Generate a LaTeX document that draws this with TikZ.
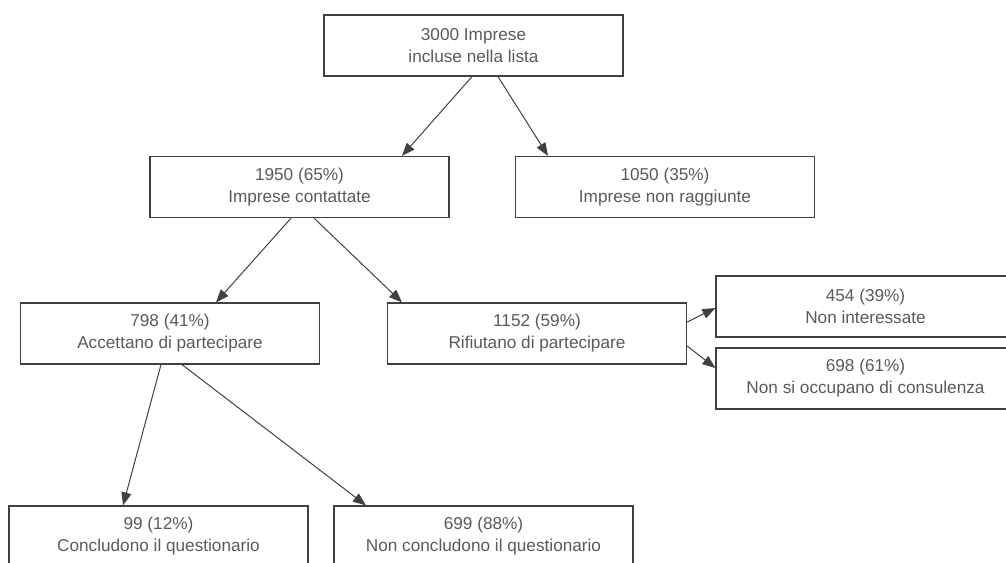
\documentclass[tikz,border=0pt]{standalone}
\usepackage{fontspec}
\setmainfont{Liberation Sans}
\usetikzlibrary{arrows.meta}
\definecolor{FlowLine}{HTML}{404040}
\definecolor{FlowText}{HTML}{5A5A5A}

\tikzset{FlowBox/.style={draw=FlowLine,line width=.6pt,rectangle,
           minimum width=149.5pt,minimum height=30.5pt,inner sep=0pt,
           align=center,text=FlowText,font=\fontsize{8.6}{11}\selectfont},
         FlowArrow/.style={draw=FlowLine,line width=.5pt,
           -{Triangle[length=6.5pt,width=5pt]}}}

\begin{document}
\begin{tikzpicture}[x=.5pt,y=-.5pt]
  % page frame in pixel units of the reference
  \clip (0,0) rectangle (1006,562);
  \node[FlowBox] (lista) at (473.5,45.5) {3000 Imprese\\incluse nella lista};
  \node[FlowBox] (contatt) at (299.5,187) {1950 (65\%)\\Imprese contattate};
  \node[FlowBox] (nonragg) at (665,187) {1050 (35\%)\\Imprese non raggiunte};
  \node[FlowBox] (accett) at (170,333.5) {798 (41\%)\\Accettano di partecipare};
  \node[FlowBox] (rifiut) at (537,333.5) {1152 (59\%)\\Rifiutano di partecipare};
  \node[FlowBox] (nonint) at (865.5,306.5) {454 (39\%)\\Non interessate};
  \node[FlowBox] (nonocc) at (865.5,378.5) {698 (61\%)\\Non si occupano di consulenza};
  \node[FlowBox] (concl) at (158.5,536.5) {99 (12\%)\\Concludono il questionario};
  \node[FlowBox] (nonconcl) at (483.5,536.5) {699 (88\%)\\Non concludono il questionario};
  % connectors
  \draw[FlowArrow] ([xshift=-.75pt]lista.south) -- ([xshift=51.25pt]contatt.north);
  \draw[FlowArrow] ([xshift=12.25pt]lista.south) -- ([xshift=-58.5pt]nonragg.north);
  \draw[FlowArrow] ([xshift=-4.25pt]contatt.south) -- ([xshift=23pt]accett.north);
  \draw[FlowArrow] ([xshift=7.25pt]contatt.south) -- ([xshift=-67.5pt]rifiut.north);
  \draw[FlowArrow] ([yshift=5.75pt]rifiut.east) -- ([yshift=-.75pt]nonint.west);
  \draw[FlowArrow] ([yshift=-6.25pt]rifiut.east) -- ([yshift=5.25pt]nonocc.west);
  \draw[FlowArrow] ([xshift=-4.5pt]accett.south) -- ([xshift=-17.75pt]concl.north);
  \draw[FlowArrow] ([xshift=6pt]accett.south) -- ([xshift=-58.75pt]nonconcl.north);
\end{tikzpicture}
\end{document}
